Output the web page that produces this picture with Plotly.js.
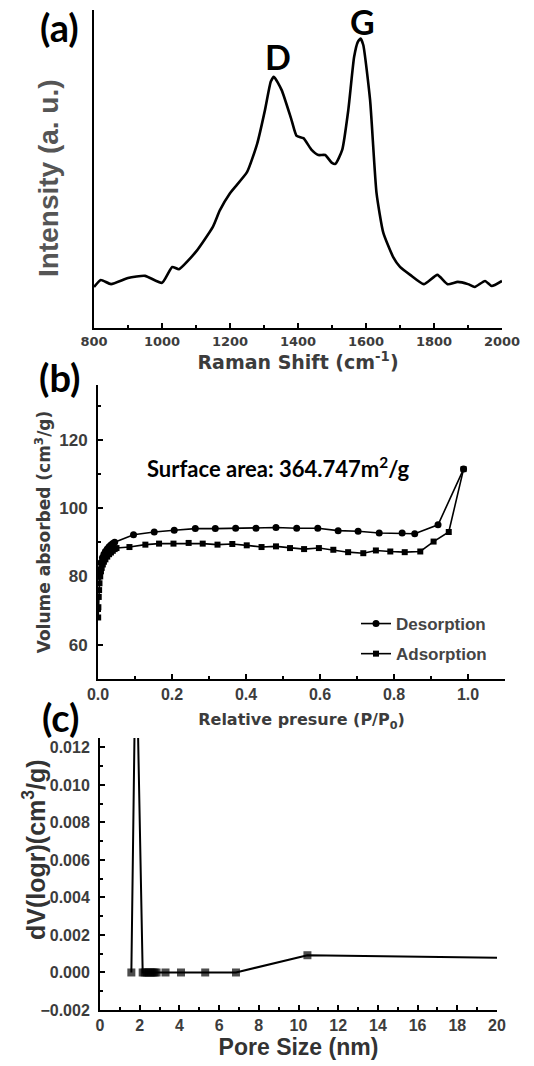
<!DOCTYPE html>
<html>
<head>
<meta charset="utf-8">
<script src="https://cdn.plot.ly/plotly-3.0.1.min.js"></script>
<style>html,body{margin:0;padding:0;background:#fff;}#chart{width:534px;height:1066px;}</style>
</head>
<body>
<div id="chart"></div>
<script>
// (a) Raman spectrum
const ramanShift = [800,820,850,900,950,1000,1030,1050,1100,1150,1170,1200,1250,1280,1303,1320,1329,1352,1381,1396,1416,1440,1460,1480,1500,1510,1530,1548,1565,1576,1584,1592,1612,1631,1651,1680,1700,1730,1770,1810,1840,1870,1900,1920,1950,1970,2000];
const ramanIntensity = [12.9,15.1,13.8,15.7,16.4,14.2,19.2,18.5,24,31.9,37,42.4,49,58,68.6,77.5,79,74.8,65.4,60.4,59.7,56,54.4,54.4,51.9,51.6,56,68.6,85.2,90,91,89,71.7,42.4,29.9,22.3,19.2,16.7,13.8,16.7,13.8,14.5,13.8,12.9,14.8,13.2,14.8];
const ramanTicks = [800,1000,1200,1400,1600,1800,2000];

// (b) N2 isotherm
const desorptionP = [0.003,0.005,0.008,0.012,0.016,0.02,0.025,0.03,0.035,0.04,0.045,0.096,0.152,0.206,0.263,0.317,0.372,0.427,0.481,0.537,0.594,0.649,0.703,0.760,0.822,0.856,0.919,0.988];
const desorptionV = [80,82,84,85.5,86.5,87.3,88,88.7,89.2,89.6,90,92.2,93.0,93.5,94.0,94.0,94.1,94.1,94.3,94.1,94.1,93.4,93.2,92.7,92.7,92.5,95.1,111.4];
const adsorptionP = [0.0005,0.001,0.002,0.003,0.004,0.006,0.008,0.01,0.013,0.016,0.02,0.025,0.03,0.035,0.04,0.045,0.05,0.085,0.128,0.165,0.204,0.245,0.283,0.323,0.363,0.402,0.442,0.481,0.519,0.557,0.597,0.636,0.676,0.717,0.751,0.790,0.829,0.871,0.907,0.948,0.988];
const adsorptionV = [68,71,74,76,78,80,81.5,82.5,83.5,84.3,85,85.8,86.5,87,87.5,88,88.3,88.6,89.3,89.6,89.6,89.8,89.6,89.3,89.5,89.1,88.6,88.8,88.3,88.0,88.3,87.8,87.1,86.8,87.6,87.3,87.1,87.3,90.2,93.0,111.4];

// (c) pore size distribution
const poreSize = [1.58,1.81,2.15,2.25,2.35,2.45,2.55,2.65,2.75,2.85,3.3,4.08,5.3,6.85,10.45,20];
const poreDV = [0,0.0185,0,0,0,0,0,0,0,0,0,0,0,0,0.00092,0.00079];

const W = 534, H = 1066;
const px = v => v / W;
const py = v => 1 - v / H;

const arialB = {family: 'Liberation Sans, Arial, sans-serif', weight: 'bold'};
const dejaB = {family: 'DejaVu Sans, sans-serif', weight: 'bold'};
const labelF = {family: 'Lato, sans-serif', weight: 'bold', color: '#000'};
const grey = '#3c3c3c';
const noOutline = {width: 0};

const traces = [
  {x: ramanShift, y: ramanIntensity, xaxis: 'x', yaxis: 'y', type: 'scatter', mode: 'lines',
   line: {color: '#000', width: 2.6, shape: 'spline', smoothing: 0.5}, showlegend: false},
  {x: desorptionP, y: desorptionV, xaxis: 'x2', yaxis: 'y2', type: 'scatter', mode: 'lines+markers',
   name: 'Desorption', legendgroup: 'd',
   line: {color: '#000', width: 1.6}, marker: {symbol: 'circle', size: 7, color: '#000', line: noOutline}},
  {x: adsorptionP, y: adsorptionV, xaxis: 'x2', yaxis: 'y2', type: 'scatter', mode: 'lines+markers',
   name: 'Adsorption', legendgroup: 'a',
   line: {color: '#000', width: 1.6}, marker: {symbol: 'square', size: 6, color: '#000', line: noOutline}},
  {x: poreSize, y: poreDV, xaxis: 'x3', yaxis: 'y3', type: 'scatter', mode: 'lines+markers',
   line: {color: '#000', width: 2}, marker: {symbol: 'square', size: poreSize.map((v, i) => i === poreSize.length - 1 ? 0 : 8), color: '#000', line: noOutline},
   showlegend: false}
];

const axBase = {showline: true, linecolor: '#000', linewidth: 2, showgrid: false, zeroline: false,
  ticks: 'inside', ticklen: 5, tickwidth: 2, tickcolor: '#000', mirror: false};

const layout = {
  width: W, height: H,
  margin: {l: 0, r: 0, t: 0, b: 0},
  paper_bgcolor: '#fff', plot_bgcolor: '#fff',
  showlegend: true,
  legend: {x: px(356), y: py(606), xanchor: 'left', yanchor: 'top', bgcolor: 'rgba(0,0,0,0)',
    traceorder: 'grouped', tracegroupgap: 5,
    font: Object.assign({size: 17, color: '#444'}, arialB)},
  xaxis: Object.assign({}, axBase, {domain: [px(94), px(502)], range: [800, 2000], anchor: 'y',
    tickvals: ramanTicks, tickfont: Object.assign({size: 13, color: grey}, dejaB),
    minor: {dtick: 100, ticks: 'inside', ticklen: 3, tickwidth: 2, tickcolor: '#000'},
    title: {text: 'Raman Shift (cm<sup>-1</sup>)', font: Object.assign({size: 19, color: grey}, dejaB), standoff: 4}}),
  yaxis: Object.assign({}, axBase, {domain: [py(328), py(10)], range: [0, 100], anchor: 'x',
    showticklabels: false, ticks: ''}),
  xaxis2: Object.assign({}, axBase, {domain: [px(98), px(505)], range: [0, 1.1], anchor: 'y2',
    dtick: 0.2, tick0: 0, tickformat: '.1f', tickfont: Object.assign({size: 16, color: grey}, arialB),
    minor: {dtick: 0.1, ticks: 'inside', ticklen: 3, tickwidth: 2, tickcolor: '#000'},
    title: {text: 'Relative presure (P/P<sub>0</sub>)', font: Object.assign({size: 16, color: grey}, dejaB), standoff: 12}}),
  yaxis2: Object.assign({}, axBase, {domain: [py(679), py(385)], range: [50, 136], anchor: 'x2',
    dtick: 20, tick0: 0, ticklabelstandoff: 5, tickfont: Object.assign({size: 17, color: grey}, arialB),
    minor: {dtick: 10, ticks: 'inside', ticklen: 3, tickwidth: 2, tickcolor: '#000'},
    title: {text: 'Volume absorbed (cm<sup>3</sup>/g)', font: Object.assign({size: 17, color: grey}, dejaB), standoff: 4}}),
  xaxis3: Object.assign({}, axBase, {domain: [px(100), px(497)], range: [0, 20], anchor: 'y3',
    dtick: 2, tick0: 0, tickfont: Object.assign({size: 16, color: grey}, arialB),
    minor: {dtick: 1, ticks: 'inside', ticklen: 3, tickwidth: 2, tickcolor: '#000'},
    title: {text: 'Pore Size (nm)', font: Object.assign({size: 23, color: '#333'}, arialB), standoff: 4}}),
  yaxis3: Object.assign({}, axBase, {domain: [py(1010), py(738)], range: [-0.002, 0.0125], anchor: 'x3',
    dtick: 0.002, tick0: 0, tickformat: '.3f', ticklabelstandoff: 5, tickfont: Object.assign({size: 16, color: grey}, arialB),
    minor: {dtick: 0.001, ticks: 'inside', ticklen: 3, tickwidth: 2, tickcolor: '#000'}}),
  annotations: [
    {text: 'Intensity (a. u.)', xref: 'paper', yref: 'paper', x: px(48), y: py(178), xanchor: 'center', yanchor: 'middle',
     textangle: -90, showarrow: false, font: Object.assign({size: 28, color: '#555'}, arialB)},
    {text: 'dV(logr)(cm<sup>3</sup>/g)', xref: 'paper', yref: 'paper', x: px(34), y: py(850), xanchor: 'center', yanchor: 'middle',
     textangle: -90, showarrow: false, font: Object.assign({size: 25, color: '#333'}, arialB)},
    {text: '(a)', xref: 'paper', yref: 'paper', x: px(59), y: py(27), xanchor: 'center', yanchor: 'middle', showarrow: false, font: Object.assign({size: 38}, labelF)},
    {text: '(b)', xref: 'paper', yref: 'paper', x: px(59), y: py(377), xanchor: 'center', yanchor: 'middle', showarrow: false, font: Object.assign({size: 38}, labelF)},
    {text: '(c)', xref: 'paper', yref: 'paper', x: px(60), y: py(717), xanchor: 'center', yanchor: 'middle', showarrow: false, font: Object.assign({size: 38}, labelF)},
    {text: 'D', xref: 'paper', yref: 'paper', x: px(278), y: py(57), xanchor: 'center', yanchor: 'middle', showarrow: false, font: Object.assign({size: 34}, labelF)},
    {text: 'G', xref: 'paper', yref: 'paper', x: px(362), y: py(21), xanchor: 'center', yanchor: 'middle', showarrow: false, font: Object.assign({size: 34}, labelF)},
    {text: 'Surface area: 364.747m<sup>2</sup>/g', xref: 'paper', yref: 'paper', x: px(278), y: py(468), xanchor: 'center', yanchor: 'middle', showarrow: false,
     font: Object.assign({size: 22}, labelF)}
  ]
};

Plotly.newPlot('chart', traces, layout, {staticPlot: true, displayModeBar: false});
</script>
</body>
</html>
